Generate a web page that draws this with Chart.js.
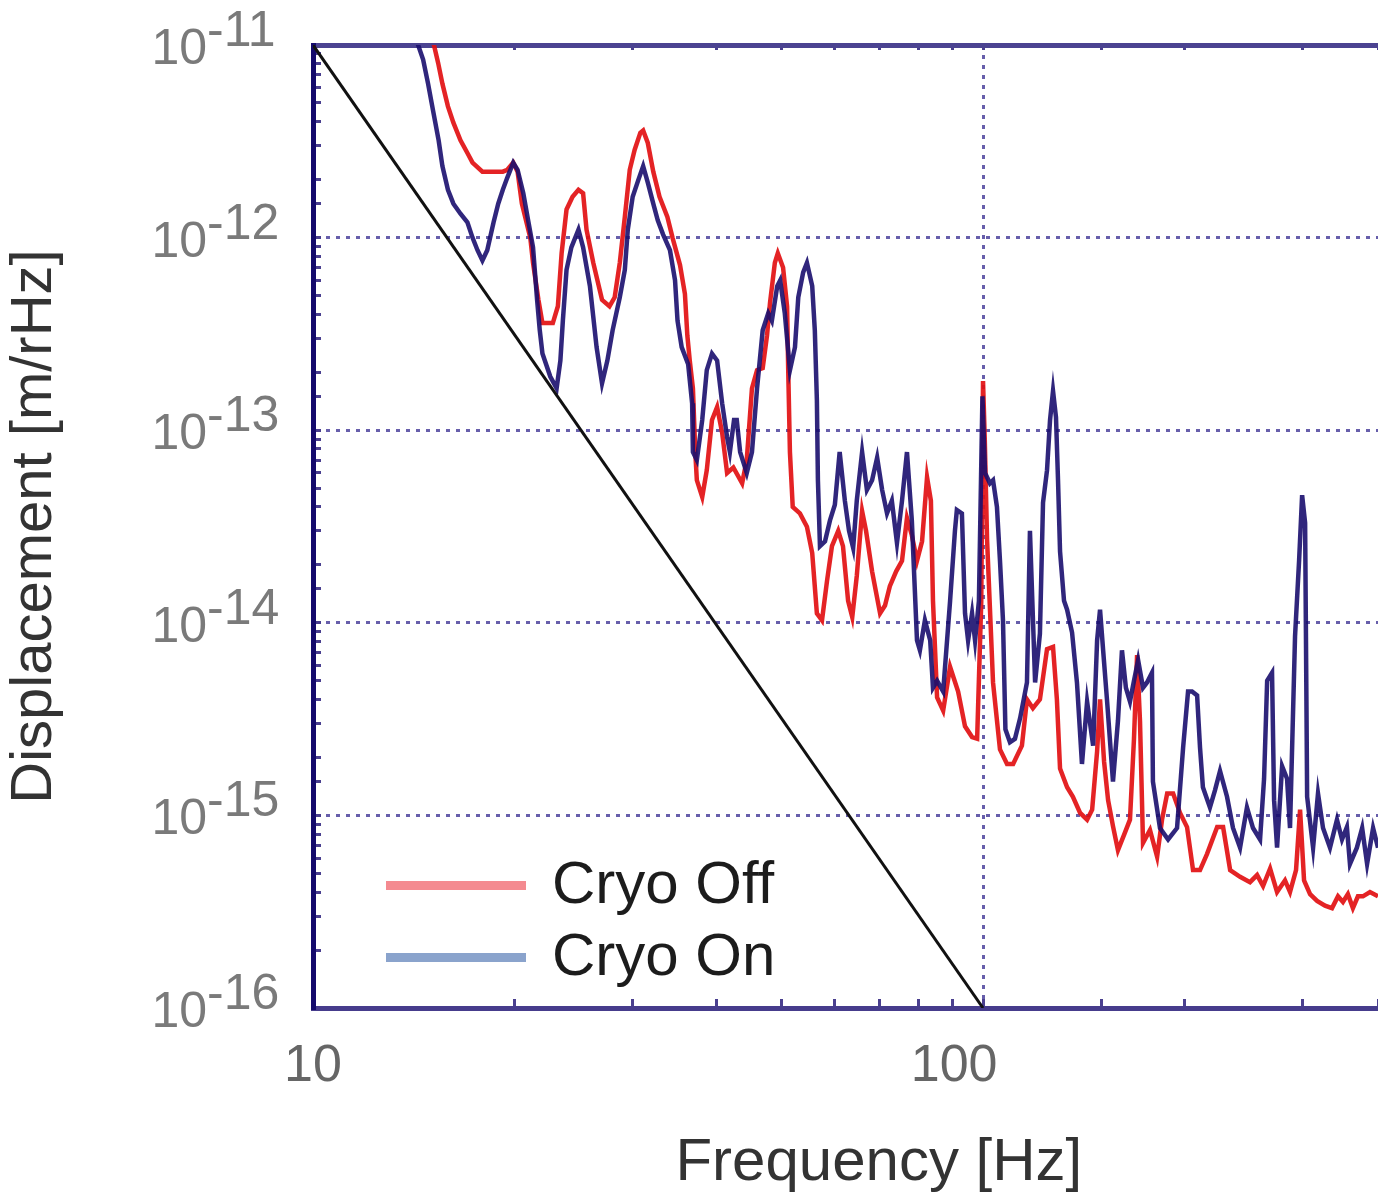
<!DOCTYPE html>
<html>
<head>
<meta charset="utf-8">
<title>Displacement spectrum – Cryo Off / Cryo On</title>
<script src="https://cdn.jsdelivr.net/npm/chart.js@4.4.1/dist/chart.umd.min.js"></script>
<style>
  html, body { margin: 0; padding: 0; background: #fff; }
  #wrap { position: relative; width: 1378px; height: 1193px; }
</style>
</head>
<body>
<div id="wrap"><canvas id="chart"></canvas></div>
<script>
/* Displacement noise spectrum, log-log. */

// ---- axis ranges / tick labels ----
const X_MIN = 10, X_MAX = 388.6;
const Y_MIN = 1e-16, Y_MAX = 1e-11;
const X_LABELS = [10, 100];                       // labelled frequency ticks
const Y_EXPONENTS = [-11, -12, -13, -14, -15, -16]; // labelled decades

// ---- Cryo Off (red) ----
const offFreq = [14.85, 15.37, 15.6, 15.9, 16.2, 16.6, 17.0, 17.3, 17.9, 19.2, 19.5, 19.9, 20.2, 20.5, 21.1, 21.3, 21.7, 22.0, 22.8,
  23.2, 23.5, 23.9, 24.4, 24.9, 25.3, 25.6, 26.2, 27.0, 27.7, 28.2, 28.7, 29.2, 29.7, 30.2, 30.8, 31.1, 31.6, 32.2, 32.9, 33.8,
  34.4, 35.3, 35.9, 36.2, 36.5, 36.9, 37.2, 37.4, 38.1, 38.7, 39.4, 40.1, 40.8, 41.5, 42.4, 43.7, 44.4, 45.2, 46.0, 46.9, 47.6,
  48.1, 48.9, 49.4, 50.3, 51.0, 51.2, 51.5, 52.0, 53.3, 54.6, 55.6, 56.5, 57.5, 58.5, 59.5, 60.8, 61.8, 62.9, 63.8, 64.8, 66.0,
  66.9, 68.3, 70.2, 71.4, 72.6, 74.2, 75.7, 77.0, 78.3, 79.7, 81.1, 82.5, 83.6, 84.2, 85.4, 87.2, 89.3, 91.8, 94.0, 96.3, 98.0,
  99.4, 100.0, 100.6, 101.4, 103.5, 106.0, 108.6, 110.9, 114.3, 116.3, 118.7, 121.6, 124.6, 127.2, 128.9, 130.3, 133.5, 136.2,
  139.6, 143.0, 145.5, 148.0, 149.5, 151.6, 153.7, 156.3, 159.0, 162.3, 165.7, 168.0, 169.8, 171.5, 173.3, 177.5, 181.9, 185.0,
  188.3, 192.2, 196.8, 201.6, 205.8, 210.8, 215.9, 223.6, 228.2, 233.8, 241.9, 250.3, 256.5, 261.8, 268.2, 274.7, 282.3, 287.2,
  293.2, 297.3, 301.4, 307.7, 315.2, 323.9, 331.8, 338.7, 344.5, 350.4, 356.5, 362.7, 369.0, 378.0, 388.6];
const offVal = [1.35e-11, 8.1e-12, 6.3e-12, 4.8e-12, 3.95e-12, 3.2e-12, 2.75e-12, 2.45e-12, 2.2e-12, 2.2e-12, 2.25e-12, 2.45e-12, 2.2e-12, 1.5e-12, 1.0e-12, 7.4e-13, 4.75e-13, 3.6e-13, 3.6e-13,
  4.4e-13, 8.3e-13, 1.4e-12, 1.63e-12, 1.77e-12, 1.7e-12, 1.1e-12, 7.4e-13, 4.75e-13, 4.4e-13, 4.9e-13, 7.4e-13, 1.28e-12, 2.25e-12, 2.85e-12, 3.5e-12, 3.6e-12, 3.1e-12, 2.2e-12, 1.63e-12, 1.28e-12,
  1.0e-12, 7.2e-13, 5.1e-13, 3.1e-13, 2.3e-13, 1.65e-13, 7.7e-14, 5.5e-14, 4.5e-14, 6.2e-14, 1.13e-13, 1.32e-13, 9.7e-14, 6.0e-14, 6.4e-14, 5.3e-14, 7.0e-14, 1.65e-13, 2.05e-13, 2.1e-13, 3.1e-13,
  4.6e-13, 7.4e-13, 8.3e-13, 7.0e-13, 4.4e-13, 2.05e-13, 7.7e-14, 4.0e-14, 3.7e-14, 3.15e-14, 2.3e-14, 1.12e-14, 1.03e-14, 1.65e-14, 2.5e-14, 3.0e-14, 2.5e-14, 1.3e-14, 1.07e-14, 1.75e-14, 3.8e-14,
  3.0e-14, 1.85e-14, 1.12e-14, 1.23e-14, 1.55e-14, 1.85e-14, 2.1e-14, 3.5e-14, 2.85e-14, 2.1e-14, 2.65e-14, 5.7e-14, 4.3e-14, 1.3e-14, 4.1e-15, 3.5e-15, 5.9e-15, 4.4e-15, 2.9e-15, 2.55e-15, 2.5e-15,
  1.3e-14, 1.8e-13, 9.0e-14, 2.7e-14, 4.9e-15, 2.2e-15, 1.85e-15, 1.85e-15, 2.3e-15, 4.0e-15, 3.6e-15, 4.0e-15, 7.3e-15, 7.5e-15, 4.0e-15, 1.75e-15, 1.4e-15, 1.25e-15,
  1.03e-15, 9.5e-16, 1.07e-15, 2.15e-15, 4.0e-15, 1.9e-15, 1.2e-15, 8.8e-16, 6.6e-16, 7.9e-16, 9.5e-16, 2.5e-15, 6.8e-15, 3.1e-15, 7.2e-16, 8.4e-16, 6.1e-16, 9.5e-16,
  1.3e-15, 1.3e-15, 1.03e-15, 8.7e-16, 5.2e-16, 5.2e-16, 6.3e-16, 8.7e-16, 8.7e-16, 5.2e-16, 4.8e-16, 4.5e-16, 4.9e-16, 4.3e-16, 5.3e-16, 4.0e-16, 4.6e-16, 4.0e-16,
  5.2e-16, 1.07e-15, 4.6e-16, 3.9e-16, 3.6e-16, 3.4e-16, 3.3e-16, 3.8e-16, 3.55e-16, 3.9e-16, 3.3e-16, 3.8e-16, 3.8e-16, 4.0e-16, 3.8e-16];

// ---- Cryo On (blue) ----
const onFreq = [14.1, 14.35, 14.6, 14.85, 15.1, 15.4, 15.6, 15.9, 16.2, 16.6, 17.0, 17.3, 17.6, 17.9, 18.2, 18.6, 18.9, 19.2, 19.5, 19.9,
  20.2, 20.6, 20.9, 21.3, 21.6, 21.8, 22.0, 22.6, 23.1, 23.4, 23.6, 23.9, 24.3, 24.9, 25.3, 25.9, 26.5, 27.0, 27.5, 28.0, 28.7,
  29.2, 29.5, 30.0, 30.6, 31.1, 31.6, 32.2, 32.7, 33.3, 34.1, 34.7, 35.0, 35.5, 36.3, 36.8, 36.9, 37.4, 38.1, 38.7, 39.4, 40.1,
  40.8, 41.5, 41.9, 42.5, 42.9, 43.4, 44.4, 45.2, 46.0, 46.9, 47.8, 48.4, 49.3, 49.8, 50.6, 51.5, 52.4, 53.0, 53.9, 54.6, 55.6,
  56.1, 56.5, 56.7, 57.1, 58.1, 59.1, 60.1, 61.1, 62.2, 63.1, 64.0, 64.8, 66.0, 67.1, 68.3, 69.5, 70.7, 71.9, 73.1, 74.4, 75.7,
  77.0, 78.3, 79.7, 80.5, 81.9, 83.4, 84.2, 85.4, 87.2, 89.3, 90.8, 91.4, 93.0, 94.0, 95.0, 96.3, 97.3, 98.6, 99.8, 100.7, 102.4,
  103.5, 104.9, 106.0, 107.1, 108.0, 109.7, 111.6, 113.6, 116.3, 117.5, 119.6, 121.6, 122.9, 124.6, 125.9, 127.2, 128.5, 129.4,
  130.3, 132.1, 133.5, 135.8, 138.1, 140.5, 143.0, 146.0, 148.0, 149.5, 151.1, 153.1, 156.3, 159.0, 161.2, 163.4, 165.7, 168.0,
  170.4, 173.3, 175.7, 178.7, 179.3, 183.7, 188.9, 194.8, 198.9, 202.3, 205.1, 208.7, 210.8, 212.9, 218.1, 221.9, 225.8, 231.3,
  236.1, 241.9, 247.7, 252.9, 259.1, 262.7, 265.5, 270.0, 271.9, 274.7, 279.5, 284.3, 287.2, 292.2, 296.3, 299.4, 302.5, 304.6,
  310.9, 316.2, 321.7, 329.5, 337.5, 343.4, 349.2, 352.9, 361.4, 368.0, 374.3, 382.1, 388.6];
const onVal = [1.35e-11, 1.0e-11, 8.4e-12, 6.3e-12, 4.6e-12, 3.2e-12, 2.35e-12, 1.77e-12, 1.5e-12, 1.33e-12, 1.2e-12, 1.0e-12, 8.6e-13, 7.6e-13, 8.6e-13, 1.2e-12, 1.5e-12, 1.77e-12, 2.05e-12, 2.45e-12,
  2.25e-12, 1.7e-12, 1.28e-12, 8.9e-13, 4.75e-13, 3.3e-13, 2.5e-13, 1.9e-13, 1.65e-13, 2.3e-13, 3.7e-13, 6.8e-13, 8.9e-13, 1.1e-12, 8.9e-13, 5.6e-13, 2.7e-13, 1.75e-13, 2.3e-13, 3.3e-13, 4.9e-13,
  6.8e-13, 1.1e-12, 1.63e-12, 2.0e-12, 2.35e-12, 1.93e-12, 1.5e-12, 1.23e-12, 1.04e-12, 8.6e-13, 6.0e-13, 3.7e-13, 2.7e-13, 2.2e-13, 1.38e-13, 7.7e-14, 7.0e-14, 1.13e-13, 2.05e-13, 2.5e-13, 2.3e-13,
  1.38e-13, 9.2e-14, 7.7e-14, 1.13e-13, 1.13e-13, 7.7e-14, 6.0e-14, 7.7e-14, 1.65e-13, 3.3e-13, 4.05e-13, 3.7e-13, 5.6e-13, 6.0e-13, 4.05e-13, 2.05e-13, 2.7e-13, 4.9e-13, 6.6e-13, 7.4e-13, 5.6e-13,
  3.3e-13, 1.43e-13, 5.5e-14, 2.5e-14, 2.65e-14, 3.4e-14, 4.1e-14, 7.7e-14, 4.3e-14, 3.0e-14, 2.45e-14, 4.3e-14, 7.7e-14, 4.9e-14, 5.5e-14, 7.2e-14, 4.9e-14, 3.7e-14, 4.3e-14, 2.6e-14, 4.3e-14,
  7.7e-14, 3.4e-14, 8.1e-15, 7.2e-15, 1.03e-14, 8.1e-15, 4.6e-15, 5.0e-15, 4.4e-15, 1.3e-14, 3.0e-14, 3.85e-14, 3.7e-14, 1.12e-14, 8.1e-15, 1.12e-14, 8.1e-15, 1.3e-14, 1.5e-13, 6.0e-14, 5.3e-14,
  5.5e-14, 4.0e-14, 2.1e-14, 1.03e-14, 2.8e-15, 2.4e-15, 2.5e-15, 3.2e-15, 4.9e-15, 3.0e-14, 4.9e-15, 8.8e-15, 4.2e-14, 6.2e-14, 1.13e-13, 1.6e-13, 1.17e-13, 5.5e-14,
  2.35e-14, 1.3e-14, 1.17e-14, 8.9e-15, 4.9e-15, 1.85e-15, 3.9e-15, 2.3e-15, 8.1e-15, 1.17e-14, 7.2e-15, 4.0e-15, 1.5e-15, 3.1e-15, 7.2e-15, 4.6e-15, 3.9e-15, 5.0e-15,
  6.4e-15, 4.6e-15, 4.9e-15, 5.5e-15, 1.5e-15, 8.6e-16, 7.5e-16, 8.6e-16, 2.25e-15, 4.4e-15, 4.4e-15, 4.2e-15, 2.25e-15, 1.4e-15, 1.1e-15, 1.35e-15, 1.7e-15, 1.25e-15,
  8.6e-16, 6.8e-16, 1.1e-15, 8.6e-16, 7.5e-16, 1.55e-15, 5.0e-15, 5.5e-15, 1.2e-15, 6.8e-16, 1.8e-15, 1.55e-15, 8.6e-16, 8.5e-15, 2.1e-14, 4.6e-14, 3.3e-14, 1.25e-15,
  6.8e-16, 1.3e-15, 8.6e-16, 6.8e-16, 9.5e-16, 7.5e-16, 8.7e-16, 5.6e-16, 6.8e-16, 8.6e-16, 5.6e-16, 8.6e-16, 6.8e-16];

// ---- f^-5 reference line (black) ----
const refFreq = [10, 100];
const refVal = [1e-11, 1e-16];

const LEGEND_COLORS = ['#f48a90', '#8aa3cc'];
const FONT = '"Liberation Sans", Arial, sans-serif';

const pts = (xs, ys) => xs.map((x, i) => ({ x, y: ys[i] }));
const isDecade = (v) => { const l = Math.log10(v); return Math.abs(l - Math.round(l)) < 1e-6; };
const gridColor = (ctx) => (ctx.tick && isDecade(ctx.tick.value)) ? 'rgba(76,66,156,0.85)' : 'rgba(0,0,0,0)';

/* y tick labels as 10 + raised exponent, and the legend sitting inside the plot */
const decorations = {
  id: 'decorations',
  afterDatasetsDraw(chart) {
    const { ctx, chartArea: a } = chart;
    ctx.save();
    // legend
    ctx.font = '60px ' + FONT;
    ctx.textAlign = 'left';
    ctx.textBaseline = 'alphabetic';
    LEGEND_COLORS.forEach((col, i) => {
      const y = a.bottom - 122.5 + i * 72;
      ctx.strokeStyle = col;
      ctx.lineWidth = 9;
      ctx.beginPath();
      ctx.moveTo(a.left + 73, y);
      ctx.lineTo(a.left + 213, y);
      ctx.stroke();
      ctx.fillStyle = '#1c1c1c';
      ctx.fillText(chart.data.datasets[i].label, a.left + 239, y + 17.5);
    });
    // y tick labels
    const ys = chart.scales.y;
    const xEdge = a.left - 106;
    ctx.font = '50px ' + FONT;
    ctx.fillStyle = '#7a7a7a';
    Y_EXPONENTS.forEach(e => {
      const py = ys.getPixelForValue(Math.pow(10, e));
      ctx.textAlign = 'right';
      ctx.fillText('10', xEdge, py + 19);
      ctx.textAlign = 'left';
      ctx.fillText('-' + Math.abs(e), xEdge, py + 1);
    });
    ctx.restore();
  }
};

new Chart(document.getElementById('chart'), {
  type: 'line',
  data: {
    datasets: [
      { label: 'Cryo Off', data: pts(offFreq, offVal), borderColor: 'rgba(226,16,18,0.92)', borderWidth: 4.5, pointRadius: 0, tension: 0, order: 2 },
      { label: 'Cryo On', data: pts(onFreq, onVal), borderColor: 'rgba(26,14,110,0.9)', borderWidth: 4.5, pointRadius: 0, tension: 0, order: 1 },
      { label: 'f^-5', data: pts(refFreq, refVal), borderColor: '#111', borderWidth: 3, pointRadius: 0, order: 0 }
    ]
  },
  options: {
    responsive: true, maintainAspectRatio: false, animation: false, devicePixelRatio: 1,
    layout: { padding: { top: 45, left: 0, right: 0, bottom: 0 } },
    plugins: { legend: { display: false }, tooltip: { enabled: false } },
    scales: {
      x: {
        type: 'logarithmic', position: 'bottom', min: X_MIN, max: X_MAX,
        afterFit: s => { s.height = 185; },
        border: { color: '#463c8c', width: 5, dash: [4, 6] },
        grid: { color: gridColor, lineWidth: 3, drawTicks: true, tickLength: -9, tickColor: '#4a3f8f', tickWidth: 3 },
        ticks: {
          // padding 0 so no extra right-hand space is reserved; the tall line height drops the labels below the axis
          autoSkip: false, maxRotation: 0, padding: 0, color: '#666',
          font: { family: FONT, size: 52, lineHeight: 2.6 },
          callback: v => X_LABELS.includes(Math.round(v)) && isDecade(v) ? (Math.round(v) === 100 ? '100    ' : String(Math.round(v))) : ''
        },
        title: { display: true, text: '    Frequency [Hz]', color: '#333', font: { family: FONT, size: 60, lineHeight: 1 }, padding: { top: 0, bottom: 0 } }
      },
      x2: {
        type: 'logarithmic', position: 'top', min: X_MIN, max: X_MAX,
        afterFit: s => { s.height = 0; },
        border: { color: '#4b4391', width: 5 },
        grid: { drawOnChartArea: false, drawTicks: true, tickLength: -5, tickColor: '#4a3f8f', tickWidth: 3 },
        ticks: { display: false, autoSkip: false }
      },
      y: {
        type: 'logarithmic', position: 'left', min: Y_MIN, max: Y_MAX,
        afterFit: s => { s.width = 313; },
        border: { color: '#140a6c', width: 5, dash: [4, 6] },
        grid: { color: gridColor, lineWidth: 3, drawTicks: true, tickLength: -8, tickColor: '#4a3f8f', tickWidth: 3 },
        ticks: { display: false },
        title: { display: true, text: 'Displacement [m/rHz]', color: '#333', font: { family: FONT, size: 58 }, padding: { top: 0, bottom: 0 } }
      }
    }
  },
  plugins: [decorations]
});
</script>
</body>
</html>
